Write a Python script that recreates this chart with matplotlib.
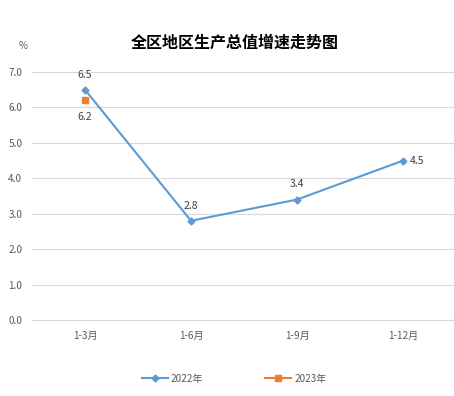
import matplotlib
matplotlib.use("Agg")
import matplotlib.pyplot as plt

plt.rcParams['font.family'] = ['Noto Sans CJK SC', 'DejaVu Sans']

periods = ["1-3月", "1-6月", "1-9月", "1-12月"]
growth_2022 = [6.5, 2.8, 3.4, 4.5]
growth_2023 = [6.2, None, None, None]
yticks = [0.0, 1.0, 2.0, 3.0, 4.0, 5.0, 6.0, 7.0]

blue = "#5B9BD5"
orange = "#ED7D31"

fig = plt.figure(figsize=(4.54, 3.96), dpi=100)
ax = fig.add_axes([0.0705, 0.192, 0.934, 0.626])

x = list(range(len(periods)))
ax.plot(x, growth_2022, color=blue, lw=1.5, marker="D", ms=3.5, label="2022年")
x23 = [i for i, v in enumerate(growth_2023) if v is not None]
y23 = [v for v in growth_2023 if v is not None]
ax.plot(x23, y23, color=orange, lw=1.5, marker="s", ms=5, label="2023年")

# data labels
offsets = [(0, 11), (0, 11), (0, 11), (10, 0)]
for i, v in enumerate(growth_2022):
    dx, dy = offsets[i]
    ax.annotate(f"{v:.1f}", (i, v), xytext=(dx, dy), textcoords="offset points",
                ha="center", va="center", fontsize=7.5, color="#404040")
for i, v in zip(x23, y23):
    ax.annotate(f"{v:.1f}", (i, v), xytext=(0, -12), textcoords="offset points",
                ha="center", va="center", fontsize=7.5, color="#404040")

ax.set_xlim(-0.5, len(periods) - 0.5)
ax.set_ylim(0, 7)
ax.set_yticks(yticks)
ax.set_yticklabels([f"{t:.1f}" for t in yticks])
ax.set_xticks(x)
ax.set_xticklabels(periods)
ax.tick_params(axis="both", length=0, labelsize=7.2, colors="#595959")
ax.tick_params(axis="x", pad=8)
ax.tick_params(axis="y", pad=7)
ax.grid(axis="y", color="#D9D9D9", lw=0.8)
ax.set_axisbelow(True)
for s in ["top", "right", "left"]:
    ax.spines[s].set_visible(False)
ax.spines["bottom"].set_color("#D9D9D9")

fig.text(0.518, 0.893, "全区地区生产总值增速走势图", ha="center", va="center",
         fontsize=11.5, fontweight="bold", color="#000000")
fig.text(0.051, 0.884, "%", ha="center", va="center", fontsize=7, color="#595959")

fig.legend(loc="center", bbox_to_anchor=(0.516, 0.043), ncol=2, frameon=False,
           fontsize=7.2, handlelength=2.6, handletextpad=0.3, columnspacing=6.2,
           labelcolor="#595959")

fig.savefig("out.png", dpi=100)
